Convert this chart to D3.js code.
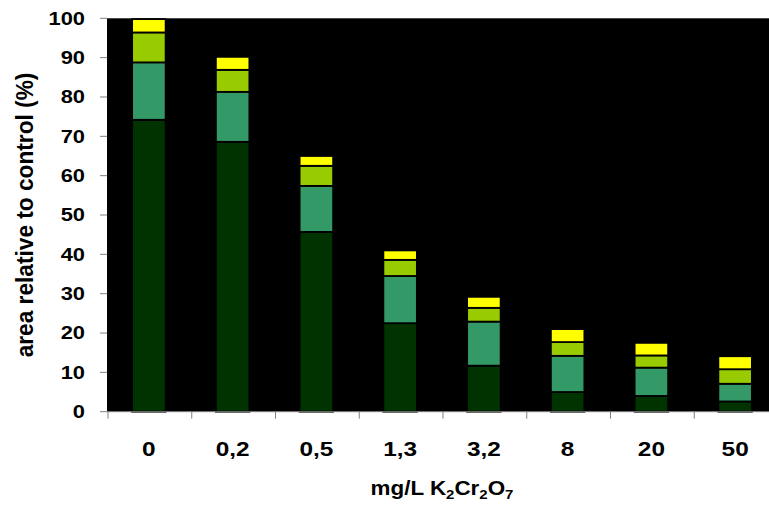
<!DOCTYPE html>
<html lang="en">
<head>
	<meta charset="utf-8">
	<title>area relative to control</title>
	<script src="https://d3js.org/d3.v7.min.js" charset="utf-8"></script>
	<style>
		body { margin: 0; background: #fff; overflow: hidden; }
		svg { display: block; }
		text { font-family: "Liberation Sans", Arial, sans-serif; font-weight: bold; fill: #000; }
	</style>
</head>
<body>
	<script>
		var categories = ["0", "0,2", "0,5", "1,3", "3,2", "8", "20", "50"];
		// stacked parts, bottom to top
		var part1 = [74.2, 68.6, 45.7, 22.5, 11.7, 5.0, 4.0, 2.6];
		var part2 = [14.6, 12.7, 11.7, 12.0, 11.2, 9.2, 7.2, 4.5];
		var part3 = [7.6, 5.6, 5.1, 4.1, 3.5, 3.5, 3.1, 3.7];
		var part4 = [3.4, 3.3, 2.5, 2.4, 2.8, 3.3, 3.2, 3.3];
		var yTicks = [0, 10, 20, 30, 40, 50, 60, 70, 80, 90, 100];
		var colors = ["#003300", "#339966", "#99cc00", "#ffff00"];

		var w = 769;
		var h = 505;
		// plot area edges (the right edge runs past the window, as in the picture)
		var plotLeft = 107, plotRight = 777, plotTop = 18.3, plotBottom = 411.7;
		var stretch = 1.25; // text in the picture is drawn wider than normal

		var svg = d3.select("body")
			.append("svg")
			.attr("width", w)
			.attr("height", h);

		var rows = categories.map(function(c, i) {
			return { cat: c, p0: part1[i], p1: part2[i], p2: part3[i], p3: part4[i] };
		});
		var stack = d3.stack().keys(["p0", "p1", "p2", "p3"])(rows);

		var xScale = d3.scaleBand()
			.domain(categories)
			.range([plotLeft, plotRight])
			.paddingInner(0.6)
			.paddingOuter(0.3);

		var yScale = d3.scaleLinear()
			.domain([0, 100])
			.range([plotBottom, plotTop]);

		// plot area
		svg.append("rect")
			.attr("x", plotLeft)
			.attr("y", plotTop)
			.attr("width", plotRight - plotLeft)
			.attr("height", plotBottom - plotTop)
			.attr("fill", "#000");

		svg.selectAll("g.layer")
			.data(stack)
			.enter()
			.append("g")
			.attr("class", "layer")
			.attr("fill", function(d, i) { return colors[i]; })
			.selectAll("rect")
			.data(function(d) { return d; })
			.enter()
			.append("rect")
			.attr("x", function(d) { return xScale(d.data.cat); })
			.attr("y", function(d) { return yScale(d[1]); })
			.attr("width", xScale.bandwidth())
			.attr("height", function(d) { return yScale(d[0]) - yScale(d[1]); })
			.attr("stroke", "#000")
			.attr("stroke-width", 1.8);

		// y axis ticks
		var step = xScale.step();
		svg.selectAll("line.ytick")
			.data(yTicks)
			.enter()
			.append("line")
			.attr("class", "ytick")
			.attr("x1", plotLeft - 7)
			.attr("x2", plotLeft)
			.attr("y1", function(d) { return yScale(d); })
			.attr("y2", function(d) { return yScale(d); })
			.attr("stroke", "#808080")
			.attr("stroke-width", 1);

		svg.selectAll("text.ytick")
			.data(yTicks)
			.enter()
			.append("text")
			.attr("class", "ytick")
			.attr("text-anchor", "end")
			.attr("font-size", 17.5)
			.attr("transform", function(d) {
				return "translate(85," + (yScale(d) + 6.3) + ") scale(" + stretch + ",1)";
			})
			.text(function(d) { return d; });

		// x axis line and ticks between categories
		svg.append("line")
			.attr("x1", plotLeft)
			.attr("x2", plotRight)
			.attr("y1", plotBottom)
			.attr("y2", plotBottom)
			.attr("stroke", "#808080");

		svg.selectAll("line.xtick")
			.data(d3.range(categories.length + 1))
			.enter()
			.append("line")
			.attr("class", "xtick")
			.attr("x1", function(d) { return plotLeft + 1 + d * step; })
			.attr("x2", function(d) { return plotLeft + 1 + d * step; })
			.attr("y1", plotBottom)
			.attr("y2", plotBottom + 7)
			.attr("stroke", "#808080");

		svg.selectAll("text.xtick")
			.data(categories)
			.enter()
			.append("text")
			.attr("class", "xtick")
			.attr("text-anchor", "middle")
			.attr("font-size", 19.5)
			.attr("transform", function(d) {
				return "translate(" + (xScale(d) + xScale.bandwidth() / 2) + ",456) scale(" + stretch + ",1)";
			})
			.text(function(d) { return d; });

		// axis titles
		svg.append("text")
			.attr("text-anchor", "middle")
			.attr("font-size", 21)
			.attr("transform", "translate(33," + ((plotTop + plotBottom) / 2) + ") rotate(-90) scale(1.08,1.1)")
			.text("area relative to control (%)");

		var xt = svg.append("text")
			.attr("text-anchor", "middle")
			.attr("font-size", 19.5)
			.attr("transform", "translate(" + ((plotLeft + plotRight) / 2) + ",495) scale(1.15,1)");
		xt.append("tspan").text("mg/L K");
		xt.append("tspan").attr("font-size", 13).attr("dy", 4).text("2");
		xt.append("tspan").attr("dy", -4).text("Cr");
		xt.append("tspan").attr("font-size", 13).attr("dy", 4).text("2");
		xt.append("tspan").attr("dy", -4).text("O");
		xt.append("tspan").attr("font-size", 13).attr("dy", 4).text("7");
	</script>
</body>
</html>
